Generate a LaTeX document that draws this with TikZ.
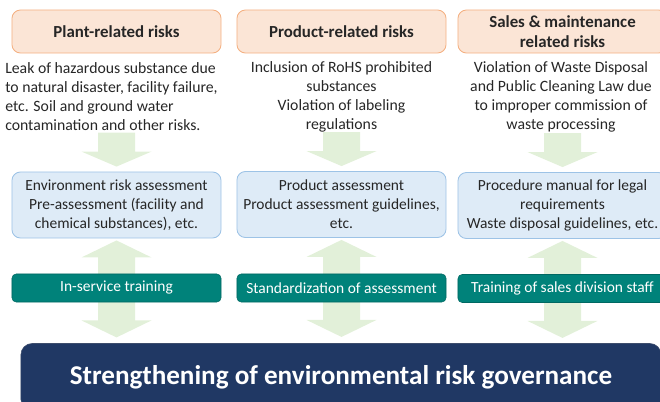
\documentclass[tikz,border=0pt]{standalone}
\usepackage{fontspec}
\setmainfont{Carlito}
\usetikzlibrary{positioning,calc}
\definecolor{riskfill}{RGB}{251,229,214}
\definecolor{riskdraw}{RGB}{244,177,131}
\definecolor{assessfill}{RGB}{222,235,247}
\definecolor{assessdraw}{RGB}{157,195,230}
\definecolor{trainteal}{RGB}{0,130,122}
\definecolor{governnavy}{RGB}{32,56,100}
\definecolor{flowgreen}{RGB}{226,240,217}
\definecolor{bodytext}{RGB}{38,38,38}

\begin{document}
\begin{tikzpicture}[
    x=0.025cm, y=-0.025cm,
    riskhead/.style={rectangle, rounded corners=6pt, fill=riskfill, draw=riskdraw, line width=0.6pt,
        minimum width=5.225cm, minimum height=1.075cm, align=center, text=bodytext,
        font=\fontsize{12}{14}\selectfont\bfseries},
    risktext/.style={inner sep=0pt, text=bodytext, font=\fontsize{11.2}{13.5}\selectfont},
    assessbox/.style={rectangle, rounded corners=6pt, fill=assessfill, draw=assessdraw, line width=0.6pt,
        minimum width=5.225cm, minimum height=1.65cm, align=center, text=bodytext,
        font=\fontsize{11}{13.5}\selectfont},
    trainbar/.style={rectangle, rounded corners=3pt, fill=trainteal, draw=trainteal!80!black, line width=0.4pt,
        minimum width=5.225cm, minimum height=0.7cm, text=white,
        font=\fontsize{11}{13.5}\selectfont},
    governbar/.style={rectangle, rounded corners=8pt, fill=governnavy, draw=governnavy!70!gray,
        minimum width=16cm, minimum height=1.675cm, text=white,
        font=\fontsize{19.3}{23}\selectfont\bfseries}
]
\useasboundingbox (0,0) rectangle (660,402);

% === COLUMN LAYOUT ===
% three columns centred at x = 116.5, 341.5, 562.5 (pixel units)
% header y=31.5, risk text y=96.5, assessment y=205, training y=288
% governance bar across the bottom, y=376.5

% Column 1: Plant-related risks
\node[riskhead] (head1) at (116.5, 31.5) {Plant-related risks};
\node[risktext, anchor=west, align=left] (risk1) at (5, 96.5)
    {Leak of hazardous substance due\\to natural disaster, facility failure,\\etc. Soil and ground water\\contamination and other risks.};
\node[assessbox] (assess1) at (116.5, 205)
    {Environment risk assessment\\Pre-assessment (facility and\\chemical substances), etc.};

% Column 2: Product-related risks
\node[riskhead] (head2) at (341.5, 31.5) {Product-related risks};
\node[risktext, align=center] (risk2) at (341.5, 96.5)
    {Inclusion of RoHS prohibited\\substances\\Violation of labeling\\regulations};
\node[assessbox] (assess2) at (341.5, 204.5)
    {Product assessment\\Product assessment guidelines,\\etc.};

% Column 3: Sales & maintenance
\node[riskhead] (head3) at (562.5, 31.5) {Sales \& maintenance\\related risks};
\node[risktext, align=center] (risk3) at (561, 96.5)
    {Violation of Waste Disposal\\and Public Cleaning Law due\\to improper commission of\\waste processing};
\node[assessbox] (assess3) at (562.5, 205.5)
    {Procedure manual for legal\\requirements\\Waste disposal guidelines, etc.};

% Governance bar at bottom
\node[governbar] (govern) at (341, 377) {Strengthening of environmental risk governance};

% Green flow arrows (drawn before the training bars)
\foreach \i in {1,2,3} {
    % down arrow: risk text -> assessment
    \fill[flowgreen] ($(assess\i.north)+(-18.5,-39)$) -- ($(assess\i.north)+(18.5,-39)$)
        -- ($(assess\i.north)+(18.5,-20)$) -- ($(assess\i.north)+(35,-20)$)
        -- ($(assess\i.north)+(0,-5)$) -- ($(assess\i.north)+(-35,-20)$)
        -- ($(assess\i.north)+(-18.5,-20)$) -- cycle;
    % double arrow: assessment <-> governance
    \fill[flowgreen] ($(assess\i.south)+(0,2)$) -- ($(assess\i.south)+(35,19)$)
        -- ($(assess\i.south)+(18.5,19)$) -- ($(assess\i.south)+(18.5,82)$)
        -- ($(assess\i.south)+(35,82)$) -- ($(assess\i.south)+(0,99)$)
        -- ($(assess\i.south)+(-35,82)$) -- ($(assess\i.south)+(-18.5,82)$)
        -- ($(assess\i.south)+(-18.5,19)$) -- ($(assess\i.south)+(-35,19)$) -- cycle;
}

% Training bars
\node[trainbar] (train1) at (116.5, 288) {In-service training};
\node[trainbar] (train2) at (341.5, 288) {Standardization of assessment};
\node[trainbar] (train3) at (562.5, 288.5) {Training of sales division staff};

\end{tikzpicture}
\end{document}
